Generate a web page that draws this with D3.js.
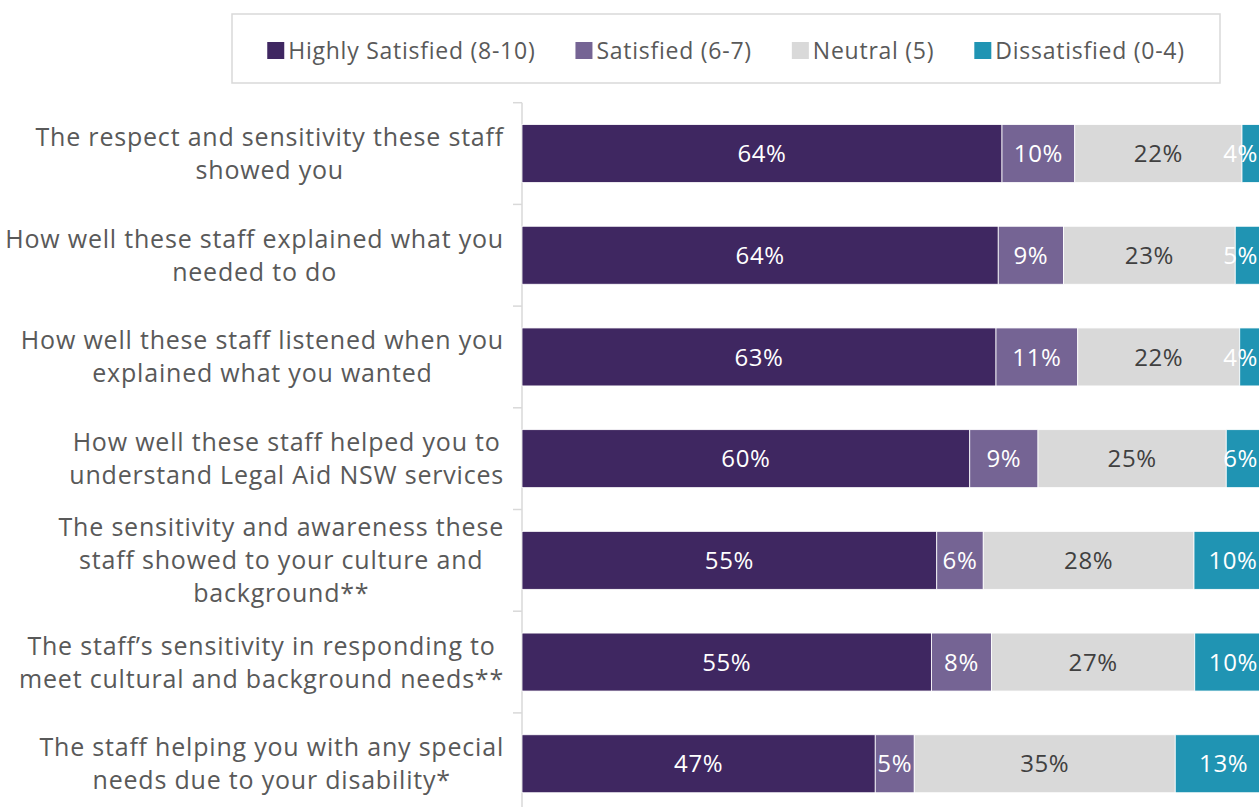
<!DOCTYPE html>
<html>
<head>
<meta charset="utf-8">
<script src="https://cdn.jsdelivr.net/npm/d3@7"></script>
<style>
  html, body { margin: 0; padding: 0; background: #fff; }
  svg { display: block; font-family: "Open Sans", "Liberation Sans", sans-serif; }
</style>
</head>
<body>
<svg id="chart" width="1259" height="807"></svg>
<script>
// Survey items (line breaks mark where each label wraps)
const categories = [
  "The respect and sensitivity these staff\nshowed you",
  "How well these staff explained what you\nneeded to do",
  "How well these staff listened when you\nexplained what you wanted",
  "How well these staff helped you to\nunderstand Legal Aid NSW services",
  "The sensitivity and awareness these\nstaff showed to your culture and\nbackground**",
  "The staff\u2019s sensitivity in responding to\nmeet cultural and background needs**",
  "The staff helping you with any special\nneeds due to your disability*"
];

const seriesNames = ["Highly Satisfied (8-10)", "Satisfied (6-7)", "Neutral (5)", "Dissatisfied (0-4)"];

// Share of respondents (%) per rating group, one entry per survey item
const highlySatisfied = [64.0, 63.5, 63.2, 59.7, 55.3, 54.6, 47.1];
const satisfied       = [ 9.7,  8.7, 10.9,  9.1,  6.2,  8.0,  5.2];
const neutral         = [22.3, 22.9, 21.6, 25.1, 28.1, 27.1, 34.8];
const dissatisfied    = [ 4.0,  4.9,  4.3,  6.1, 10.4, 10.3, 12.9];

const colors = ["#3f2761", "#756494", "#d9d9d9", "#2094b3"];
const labelColors = ["#ffffff", "#ffffff", "#404040", "#ffffff"];

const W = 1259, H = 807;
const svg = d3.select("#chart");

const rows = categories.map((c, i) => ({
  category: c,
  [seriesNames[0]]: highlySatisfied[i],
  [seriesNames[1]]: satisfied[i],
  [seriesNames[2]]: neutral[i],
  [seriesNames[3]]: dissatisfied[i]
}));

const stacked = d3.stack().keys(seriesNames)(rows);

// Plot area: value axis runs past the right edge of the canvas
const x = d3.scaleLinear().domain([0, 100]).range([522, 1272]);
const y = d3.scaleBand()
  .domain(categories)
  .range([102.7, 102.7 + 7 * 101.7])
  .paddingInner(0.43)
  .paddingOuter(0.215);

const step = y.step();
const gap = step * y.paddingInner() / 2;

// Category axis line and boundary ticks
const axisG = svg.append("g").attr("class", "axis");
axisG.append("line")
  .attr("x1", x(0)).attr("x2", x(0))
  .attr("y1", y.range()[0]).attr("y2", H + 10)
  .attr("stroke", "#d9d9d9").attr("stroke-width", 1.5);
const tickYs = categories.map(c => y(c) - gap).concat([y(categories[categories.length - 1]) + y.bandwidth() + gap]);
axisG.selectAll("line.tick").data(tickYs).join("line")
  .attr("class", "tick")
  .attr("x1", x(0) - 9).attr("x2", x(0))
  .attr("y1", d => d).attr("y2", d => d)
  .attr("stroke", "#d9d9d9").attr("stroke-width", 1.5);

// Stacked bars
const layers = svg.append("g").selectAll("g.layer").data(stacked).join("g")
  .attr("class", "layer")
  .attr("fill", (d, i) => colors[i]);

layers.selectAll("rect").data(d => d).join("rect")
  .attr("x", d => x(d[0]))
  .attr("y", d => y(d.data.category))
  .attr("width", d => x(d[1]) - x(d[0]))
  .attr("height", y.bandwidth())
  .attr("stroke", "#ffffff")
  .attr("stroke-width", 0.8);

// Value labels, kept inside the visible canvas
const fmt = d3.format(".0f");
const labelG = svg.append("g");
stacked.forEach((layer, li) => {
  layer.forEach(d => {
    const t = labelG.append("text")
      .attr("text-anchor", "middle")
      .attr("font-size", 24)
      .attr("letter-spacing", "0.6px")
      .attr("fill", labelColors[li])
      .attr("y", y(d.data.category) + y.bandwidth() / 2)
      .attr("dy", "0.36em")
      .text(fmt(d[1] - d[0]) + "%");
    const w = t.node().getComputedTextLength();
    const cx = Math.min((x(d[0]) + x(d[1])) / 2, W - 1 - w / 2);
    t.attr("x", cx);
  });
});

// Wrapped category labels: lines centred, block right-aligned to the axis
const catG = svg.append("g");
const lineH = 33;
const rightEdge = 504;
categories.forEach(c => {
  const lines = c.split("\n");
  const g = catG.append("g");
  const texts = lines.map((ln, i) => g.append("text")
    .attr("font-size", 25)
    .attr("letter-spacing", "0.8px")
    .attr("fill", "#595959")
    .attr("text-anchor", "middle")
    .attr("y", y(c) + y.bandwidth() / 2 + (i - (lines.length - 1) / 2) * lineH)
    .attr("dy", "0.36em")
    .text(ln));
  const maxW = d3.max(texts, t => t.node().getComputedTextLength());
  texts.forEach(t => t.attr("x", rightEdge - maxW / 2));
});

// Legend
const box = { x: 232, y: 14, w: 988, h: 69 };
svg.append("rect")
  .attr("x", box.x).attr("y", box.y).attr("width", box.w).attr("height", box.h)
  .attr("fill", "#fff").attr("stroke", "#d9d9d9").attr("stroke-width", 1.5);

const legG = svg.append("g");
const sw = 17, swGap = 4, itemGap = 40;
const items = seriesNames.map((name, i) => {
  const g = legG.append("g");
  g.append("rect").attr("width", sw).attr("height", sw).attr("y", -sw / 2).attr("fill", colors[i]);
  const t = g.append("text")
    .attr("x", sw + swGap)
    .attr("font-size", 23)
    .attr("letter-spacing", "0.75px")
    .attr("fill", "#595959")
    .attr("dy", "0.36em")
    .text(name);
  return { g, w: sw + swGap + t.node().getComputedTextLength() };
});
const totalW = d3.sum(items, d => d.w) + itemGap * (items.length - 1);
let lx = box.x + (box.w - totalW) / 2;
const ly = 50.5;
items.forEach(it => {
  it.g.attr("transform", `translate(${lx},${ly})`);
  lx += it.w + itemGap;
});
</script>
</body>
</html>
